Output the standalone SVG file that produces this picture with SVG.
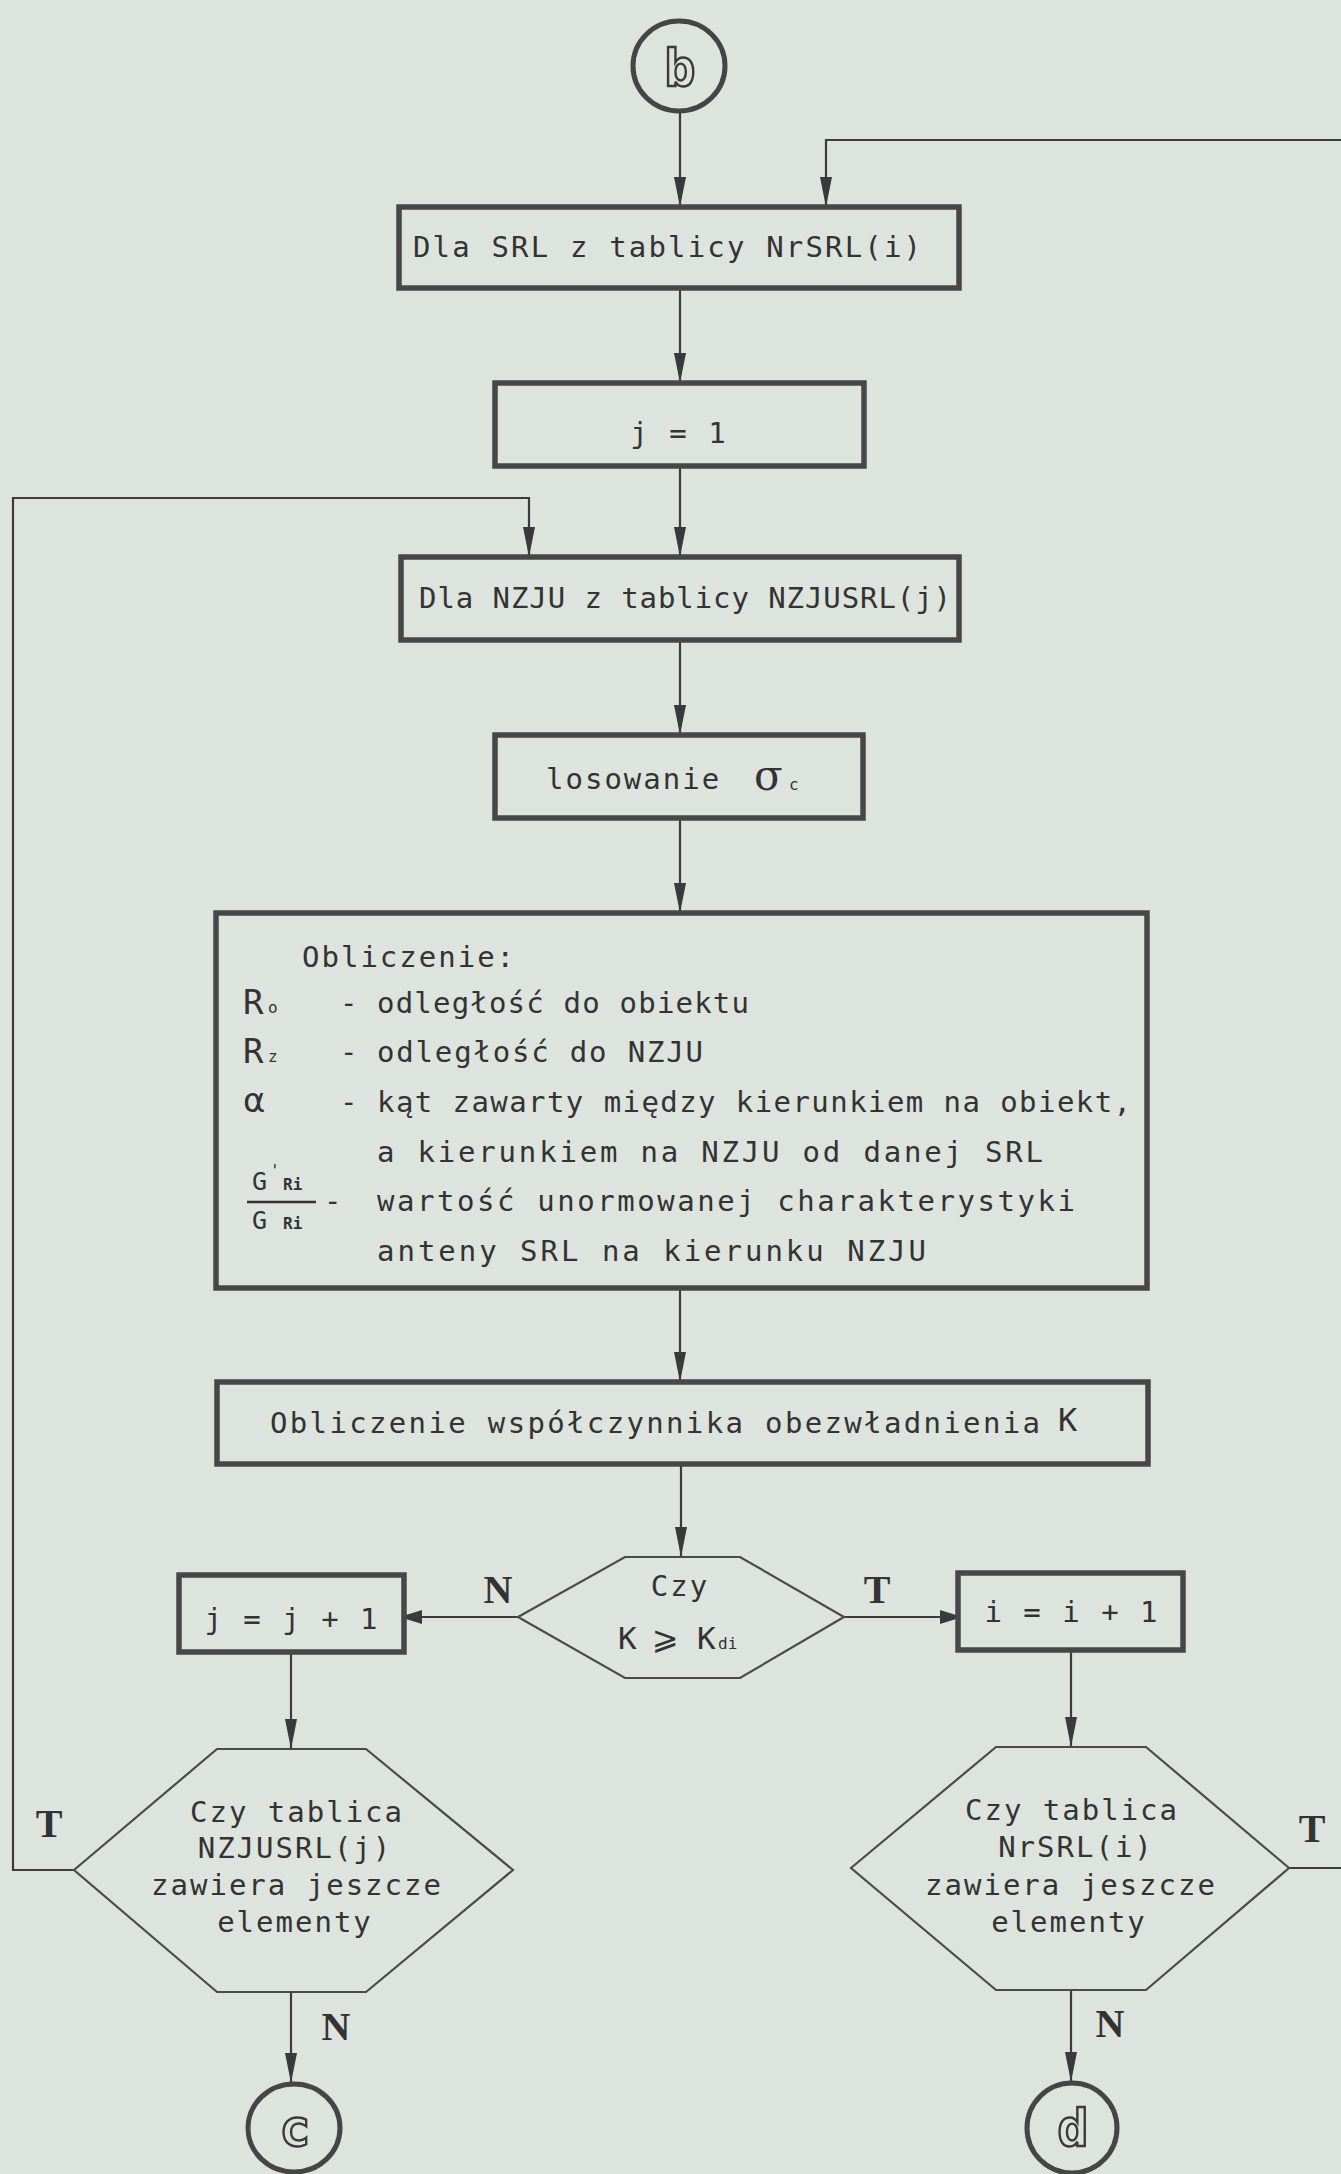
<svg xmlns="http://www.w3.org/2000/svg" width="1341" height="2174" viewBox="0 0 1341 2174">
<style>
.t{font-family:"DejaVu Sans Mono","Liberation Mono",monospace;font-size:29px;letter-spacing:2px;fill:#333}
.m{text-anchor:middle}
.box{fill:none;stroke:#474747;stroke-width:5.5}
.hex{fill:none;stroke:#4a4a4a;stroke-width:2.2}
.ring{fill:none;stroke:#454545;stroke-width:5}
.ln{fill:none;stroke:#3c3c3c;stroke-width:2.2}
.lab{font-family:"Liberation Serif",serif;font-weight:bold;font-size:40px;fill:#333;text-anchor:middle}
.cl{font-family:"DejaVu Sans Mono",monospace;font-weight:bold;font-size:52px;fill:#dde3dd;stroke:#3a3a3a;stroke-width:2.4;text-anchor:middle}
.sub{font-family:"DejaVu Sans Mono",monospace;font-size:16px;fill:#333}
.big{font-family:"DejaVu Sans Mono",monospace;font-size:34px;fill:#333}
</style>
<defs>
<marker id="a" viewBox="0 0 30 12" refX="30" refY="6" markerWidth="30" markerHeight="12" markerUnits="userSpaceOnUse" orient="auto"><path d="M0,0 L30,6 L0,12 z" fill="#3a3a3a"/></marker>
<marker id="s" viewBox="0 0 16 14" refX="16" refY="7" markerWidth="16" markerHeight="14" markerUnits="userSpaceOnUse" orient="auto"><path d="M0,0 L16,5 L16,9 L0,14 z" fill="#3a3a3a"/></marker>
</defs>
<rect width="1341" height="2174" fill="#dde3dd"/>

<g id="connectors">
<path class="ln" d="M680,113 V207" marker-end="url(#a)"/>
<path class="ln" d="M1341,140 H826 V207" marker-end="url(#a)"/>
<path class="ln" d="M680,288 V383" marker-end="url(#a)"/>
<path class="ln" d="M680,466 V557" marker-end="url(#a)"/>
<path class="ln" d="M74,1870 H13 V498 H529 V557" marker-end="url(#a)"/>
<path class="ln" d="M680,640 V735" marker-end="url(#a)"/>
<path class="ln" d="M680,818 V913" marker-end="url(#a)"/>
<path class="ln" d="M680,1288 V1382" marker-end="url(#a)"/>
<path class="ln" d="M681,1464 V1557" marker-end="url(#a)"/>
<path class="ln" d="M518,1617 H406" marker-end="url(#s)"/>
<path class="ln" d="M844,1617 H956" marker-end="url(#s)"/>
<path class="ln" d="M291,1652 V1749" marker-end="url(#a)"/>
<path class="ln" d="M1071,1650 V1747" marker-end="url(#a)"/>
<path class="ln" d="M291,1992 V2083" marker-end="url(#a)"/>
<path class="ln" d="M1071,1990 V2082" marker-end="url(#a)"/>
<path class="ln" d="M1289,1868 H1341"/>
<text class="lab" x="498" y="1603">N</text>
<text class="lab" x="877" y="1603">T</text>
<text class="lab" x="49" y="1837">T</text>
<text class="lab" x="336" y="2040">N</text>
<text class="lab" x="1312" y="1842">T</text>
<text class="lab" x="1110" y="2037">N</text>
</g>

<g id="start-b">
<ellipse class="ring" cx="679" cy="66" rx="46" ry="45"/>
<text class="cl" x="680" y="86">b</text>
</g>

<g id="box-srl">
<rect class="box" x="399" y="207" width="560" height="81"/>
<text class="t" x="413" y="257" textLength="510" lengthAdjust="spacing">Dla SRL z tablicy NrSRL(i)</text>
</g>

<g id="box-j1">
<rect class="box" x="495" y="383" width="369" height="83"/>
<text class="t m" x="679" y="443">j = 1</text>
</g>

<g id="box-nzju">
<rect class="box" x="401" y="557" width="558" height="83"/>
<text class="t" x="419" y="608" textLength="534" lengthAdjust="spacing">Dla NZJU z tablicy NZJUSRL(j)</text>
</g>

<g id="box-losowanie">
<rect class="box" x="495" y="735" width="368" height="83"/>
<text class="t" x="546" y="789">losowanie</text>
<text x="754" y="790" style="font-family:'DejaVu Serif',serif;font-size:42px;fill:#333">σ</text>
<text class="sub" x="789" y="790">c</text>
</g>

<g id="box-obliczenie">
<rect class="box" x="216" y="913" width="931" height="375"/>
<text class="t" x="302" y="967">Obliczenie:</text>
<text class="big" x="243" y="1014">R</text><text class="sub" x="268" y="1013">o</text>
<text class="t" x="340" y="1013">-</text><text class="t" x="377" y="1013" textLength="374" lengthAdjust="spacing">odległość do obiektu</text>
<text class="big" x="243" y="1063">R</text><text class="sub" x="268" y="1062">z</text>
<text class="t" x="340" y="1062">-</text><text class="t" x="377" y="1062" textLength="328" lengthAdjust="spacing">odległość do NZJU</text>
<text x="243" y="1112" style="font-family:'DejaVu Sans',sans-serif;font-size:34px;fill:#333">α</text>
<text class="t" x="340" y="1112">-</text><text class="t" x="377" y="1112" textLength="756" lengthAdjust="spacing">kąt zawarty między kierunkiem na obiekt,</text>
<text class="t" x="377" y="1162" textLength="668" lengthAdjust="spacing">a kierunkiem na NZJU od danej SRL</text>
<text x="252" y="1190" style="font-family:'DejaVu Sans Mono',monospace;font-size:25px;fill:#333">G</text>
<text class="sub" x="270" y="1176">'</text>
<text class="sub" x="283" y="1190" style="font-weight:bold">Ri</text>
<line x1="247" y1="1202" x2="316" y2="1202" stroke="#333" stroke-width="2.5"/>
<text x="252" y="1229" style="font-family:'DejaVu Sans Mono',monospace;font-size:25px;fill:#333">G</text>
<text class="sub" x="283" y="1229" style="font-weight:bold">Ri</text>
<text class="t" x="324" y="1211">-</text><text class="t" x="377" y="1211" textLength="700" lengthAdjust="spacing">wartość unormowanej charakterystyki</text>
<text class="t" x="377" y="1261" textLength="551" lengthAdjust="spacing">anteny SRL na kierunku NZJU</text>
</g>

<g id="box-k">
<rect class="box" x="217" y="1382" width="931" height="82"/>
<text class="t" x="270" y="1433" textLength="772" lengthAdjust="spacing">Obliczenie współczynnika obezwładnienia</text>
<text x="1058" y="1431" style="font-family:'DejaVu Sans Mono',monospace;font-size:32px;fill:#333">K</text>
</g>

<g id="dec-k">
<polygon class="hex" points="518,1617 625,1557 740,1557 844,1617 740,1678 625,1678"/>
<text class="t m" x="680" y="1596">Czy</text>
<text x="618" y="1649" style="font-family:'DejaVu Sans Mono',monospace;font-size:31px;fill:#333">K</text>
<text x="652" y="1649" style="font-family:'DejaVu Sans',sans-serif;font-size:32px;fill:#333">⩾</text>
<text x="697" y="1649" style="font-family:'DejaVu Sans Mono',monospace;font-size:31px;fill:#333">K</text>
<text class="sub" x="718" y="1649">di</text>
</g>

<g id="box-jj">
<rect class="box" x="179" y="1575" width="225" height="77"/>
<text class="t m" x="292" y="1629">j = j + 1</text>
</g>

<g id="box-ii">
<rect class="box" x="958" y="1573" width="225" height="77"/>
<text class="t m" x="1072" y="1622">i = i + 1</text>
</g>

<g id="dec-nzju">
<polygon class="hex" points="74,1870 217,1749 366,1749 513,1870 366,1992 217,1992"/>
<text class="t m" x="297" y="1822">Czy tablica</text>
<text class="t m" x="295" y="1858">NZJUSRL(j)</text>
<text class="t m" x="297" y="1895">zawiera jeszcze</text>
<text class="t m" x="295" y="1932">elementy</text>
</g>

<g id="dec-nrsrl">
<polygon class="hex" points="851,1868 996,1747 1146,1747 1289,1868 1146,1990 996,1990"/>
<text class="t m" x="1072" y="1820">Czy tablica</text>
<text class="t m" x="1076" y="1857">NrSRL(i)</text>
<text class="t m" x="1071" y="1895">zawiera jeszcze</text>
<text class="t m" x="1069" y="1932">elementy</text>
</g>

<g id="end-c">
<ellipse class="ring" cx="294" cy="2128" rx="46" ry="44"/>
<text class="cl" x="295" y="2146">c</text>
</g>

<g id="end-d">
<ellipse class="ring" cx="1072" cy="2128" rx="45" ry="45"/>
<text class="cl" x="1073" y="2146">d</text>
</g>
</svg>
